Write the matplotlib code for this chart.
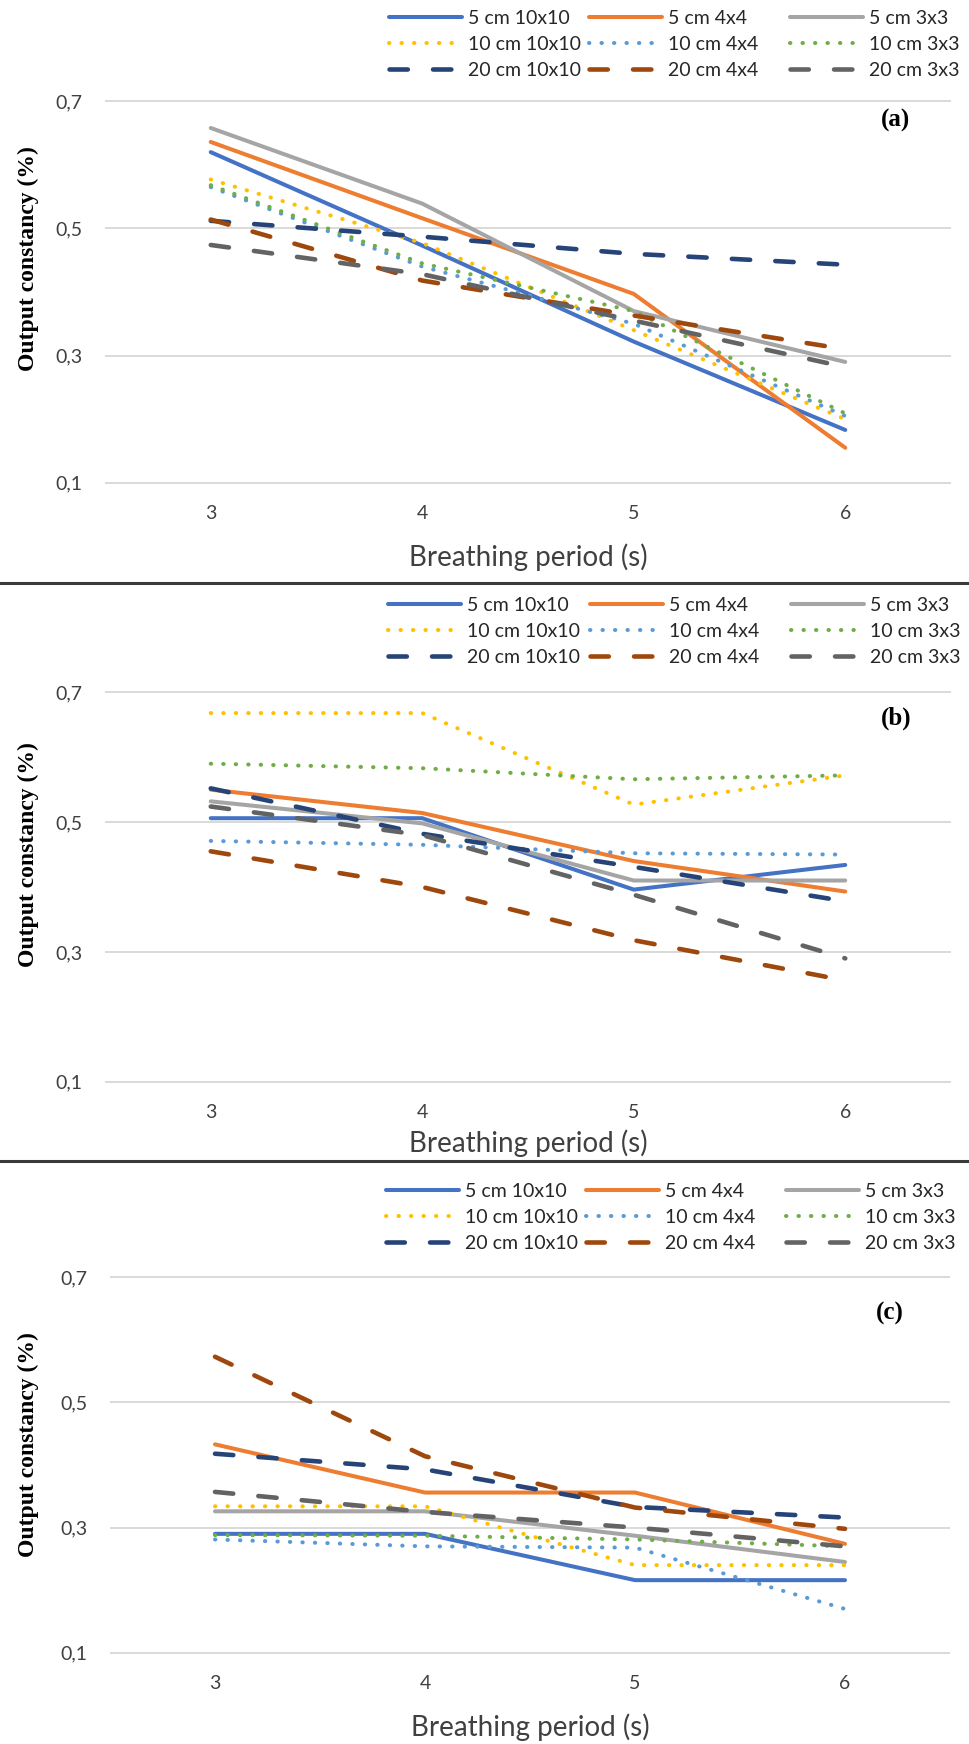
import matplotlib
matplotlib.use('Agg')
import matplotlib.pyplot as plt
from matplotlib.lines import Line2D
from matplotlib.ticker import FuncFormatter

plt.rcParams['font.family'] = ['Lato', 'DejaVu Sans']

# breathing period (s)
breathing = [3, 4, 5, 6]

labels = ['5 cm 10x10', '5 cm 4x4', '5 cm 3x3',
          '10 cm 10x10', '10 cm 4x4', '10 cm 3x3',
          '20 cm 10x10', '20 cm 4x4', '20 cm 3x3']
colors = ['#4472C4', '#ED7D31', '#A5A5A5',
          '#FFC000', '#5B9BD5', '#70AD47',
          '#264478', '#9E480E', '#636363']

# output constancy, one list per series (same order as labels)
panel_a = [
    [0.620, 0.473, 0.322, 0.183],
    [0.636, 0.516, 0.397, 0.155],
    [0.658, 0.539, 0.370, 0.290],
    [0.577, 0.477, 0.340, 0.200],
    [0.565, 0.440, 0.350, 0.205],
    [0.568, 0.445, 0.370, 0.209],
    [0.512, 0.487, 0.460, 0.443],
    [0.514, 0.418, 0.363, 0.310],
    [0.474, 0.428, 0.355, 0.282],
]
panel_b = [
    [0.506, 0.506, 0.396, 0.434],
    [0.550, 0.514, 0.440, 0.393],
    [0.532, 0.498, 0.410, 0.410],
    [0.668, 0.668, 0.527, 0.572],
    [0.471, 0.465, 0.452, 0.450],
    [0.590, 0.583, 0.566, 0.572],
    [0.552, 0.482, 0.431, 0.378],
    [0.455, 0.400, 0.318, 0.256],
    [0.524, 0.480, 0.388, 0.290],
]
panel_c = [
    [0.290, 0.290, 0.216, 0.216],
    [0.433, 0.356, 0.356, 0.274],
    [0.326, 0.326, 0.287, 0.245],
    [0.334, 0.334, 0.240, 0.240],
    [0.281, 0.270, 0.268, 0.170],
    [0.288, 0.287, 0.281, 0.270],
    [0.418, 0.393, 0.333, 0.316],
    [0.573, 0.414, 0.332, 0.298],
    [0.357, 0.325, 0.300, 0.270],
]

W, H = 969, 1744
fig = plt.figure(figsize=(W / 100, H / 100), dpi=100)


def add_ax(l, t, r, b):
    return fig.add_axes([l / W, 1 - b / H, (r - l) / W, (b - t) / H])


# data, axes box (px), tag, tag pos, legend column x, legend top, ylabel y, xlabel y
panels = [
    (panel_a, (105, 100, 951, 484), '(a)', (896, 120), (389, 589, 790), 10, 259, 557),
    (panel_b, (105, 691, 951, 1083), '(b)', (896, 718), (388, 590, 791), 597, 855, 1143),
    (panel_c, (110, 1276, 950, 1654), '(c)', (890, 1313), (386, 586, 786), 1183, 1445, 1727),
]

for data, box, tag, tag_xy, leg_x, leg_top, ylab_y, xlab_y in panels:
    ax = add_ax(*box)
    lines = []
    for i, vals in enumerate(data):
        if i < 3:
            ln, = ax.plot(breathing, vals, color=colors[i], lw=2.9,
                          solid_capstyle='round', solid_joinstyle='round')
        elif i < 6:
            ln, = ax.plot(breathing, vals, color=colors[i], lw=2.9,
                          linestyle=(0, (0.1, 3.0)), dash_capstyle='round')
        else:
            ln, = ax.plot(breathing, vals, color=colors[i], lw=3.3,
                          linestyle=(0, (4.0, 5.5)), dash_capstyle='round')
        lines.append(ln)

    ax.set_xlim(2.5, 6.5)
    ax.set_ylim(0.098, 0.702)
    ax.set_xticks(breathing)
    ax.set_yticks([0.1, 0.3, 0.5, 0.7])
    ax.yaxis.set_major_formatter(FuncFormatter(lambda v, p: f'{v:.1f}'.replace('.', ',')))
    ax.grid(axis='y', color='#D9D9D9', lw=1.4)
    ax.set_axisbelow(True)
    for s in ax.spines.values():
        s.set_visible(False)
    ax.tick_params(length=0, labelsize=14, labelcolor='#404040')
    ax.tick_params(axis='y', pad=16)
    ax.tick_params(axis='x', pad=15)

    l, t, r, b = box
    ax.set_xlabel('Breathing period (s)', fontsize=20, color='#404040')
    ax.xaxis.set_label_coords(0.5, -(xlab_y - b) / (b - t))
    ax.xaxis.label.set_va('center')
    ax.set_ylabel('Output constancy (%)', fontsize=17, fontweight='bold',
                  family='Liberation Serif')
    ax.yaxis.set_label_coords(-(l - 28) / (r - l), (b - ylab_y) / (b - t))
    ax.yaxis.label.set_va('center')

    fig.text(tag_xy[0] / W, 1 - tag_xy[1] / H, tag, fontsize=18, fontweight='bold',
             family='Liberation Serif', ha='center', va='center')

    for c in range(3):
        hs = [lines[c], lines[c + 3], lines[c + 6]]
        fig.legend(hs, [labels[c], labels[c + 3], labels[c + 6]], loc='upper left',
                   bbox_to_anchor=(leg_x[c] / W, 1 - leg_top / H), frameon=False,
                   borderpad=0, borderaxespad=0, handlelength=3.75, handletextpad=0.3,
                   labelspacing=0.46, fontsize=14, labelcolor='#262626')

for y in (583, 1161):
    fig.add_artist(Line2D([0, 1], [1 - y / H] * 2, transform=fig.transFigure,
                          color='#3A3A3A', lw=2.2))

plt.savefig('out.png', dpi=100)
